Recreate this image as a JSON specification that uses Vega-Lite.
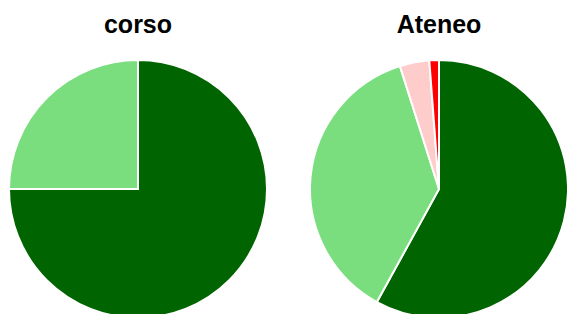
{
  "$schema": "https://vega.github.io/schema/vega-lite/v6.json",
  "padding": {"left": 5, "top": 13, "right": 0, "bottom": 0},
  "spacing": 35,
  "background": "white",
  "config": {
    "view": {"stroke": null},
    "title": {"font": "Liberation Sans", "fontSize": 25, "fontWeight": "bold", "color": "black", "anchor": "middle", "offset": 18, "baseline": "alphabetic"}
  },
  "datasets": {
    "corso": [
      {"cat": "A", "value": 75, "ord": 1},
      {"cat": "B", "value": 25, "ord": 2}
    ],
    "ateneo": [
      {"cat": "A", "value": 58, "ord": 1},
      {"cat": "B", "value": 37.1, "ord": 2},
      {"cat": "C", "value": 3.7, "ord": 3},
      {"cat": "D", "value": 1.2, "ord": 4}
    ]
  },
  "hconcat": [
    {
      "title": "corso",
      "data": {"name": "corso"},
      "width": 258,
      "height": 258,
      "mark": {"type": "arc", "stroke": "white", "strokeWidth": 2},
      "encoding": {
        "theta": {"field": "value", "type": "quantitative", "stack": true},
        "order": {"field": "ord", "type": "quantitative"},
        "color": {"field": "cat", "type": "nominal", "legend": null,
          "scale": {"domain": ["A", "B", "C", "D"], "range": ["#006400", "#7ade7e", "#ffcccc", "#ff0000"]}}
      }
    },
    {
      "title": "Ateneo",
      "data": {"name": "ateneo"},
      "width": 258,
      "height": 258,
      "mark": {"type": "arc", "stroke": "white", "strokeWidth": 2},
      "encoding": {
        "theta": {"field": "value", "type": "quantitative", "stack": true},
        "order": {"field": "ord", "type": "quantitative"},
        "color": {"field": "cat", "type": "nominal", "legend": null,
          "scale": {"domain": ["A", "B", "C", "D"], "range": ["#006400", "#7ade7e", "#ffcccc", "#ff0000"]}}
      }
    }
  ]
}
